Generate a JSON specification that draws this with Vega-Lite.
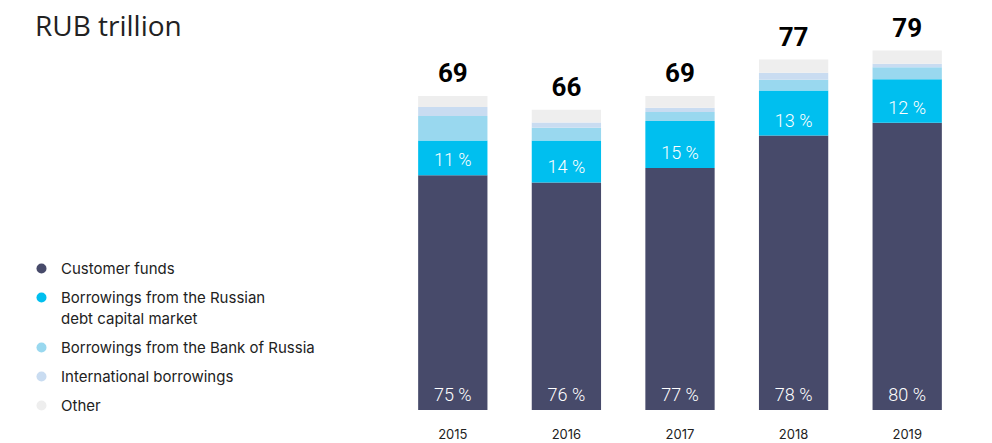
{
  "$schema": "https://vega.github.io/schema/vega-lite/v6.json",
  "width": 568,
  "height": 405,
  "autosize": {"type": "none"},
  "padding": {"left": 396, "top": 5, "right": 28, "bottom": 33},
  "background": "white",
  "title": {
    "text": "RUB trillion",
    "anchor": "start",
    "frame": "group",
    "orient": "top",
    "baseline": "alphabetic",
    "offset": 0,
    "dx": -361,
    "dy": 59,
    "fontSize": 28,
    "font": "Open Sans",
    "fontWeight": "normal",
    "color": "#222222"
  },
  "data": {
    "values": [
      {"year": "2015", "source": "Customer funds", "order": 1, "value": 51.6, "label": "75 %"},
      {"year": "2015", "source": "Borrowings from the Russian debt capital market", "order": 2, "value": 7.6, "label": "11 %"},
      {"year": "2015", "source": "Borrowings from the Bank of Russia", "order": 3, "value": 5.4},
      {"year": "2015", "source": "International borrowings", "order": 4, "value": 2.0},
      {"year": "2015", "source": "Other", "order": 5, "value": 2.4},
      {"year": "2016", "source": "Customer funds", "order": 1, "value": 50.0, "label": "76 %"},
      {"year": "2016", "source": "Borrowings from the Russian debt capital market", "order": 2, "value": 9.2, "label": "14 %"},
      {"year": "2016", "source": "Borrowings from the Bank of Russia", "order": 3, "value": 2.8},
      {"year": "2016", "source": "International borrowings", "order": 4, "value": 1.2},
      {"year": "2016", "source": "Other", "order": 5, "value": 2.8},
      {"year": "2017", "source": "Customer funds", "order": 1, "value": 53.2, "label": "77 %"},
      {"year": "2017", "source": "Borrowings from the Russian debt capital market", "order": 2, "value": 10.3, "label": "15 %"},
      {"year": "2017", "source": "Borrowings from the Bank of Russia", "order": 3, "value": 2.0},
      {"year": "2017", "source": "International borrowings", "order": 4, "value": 0.9},
      {"year": "2017", "source": "Other", "order": 5, "value": 2.6},
      {"year": "2018", "source": "Customer funds", "order": 1, "value": 60.3, "label": "78 %"},
      {"year": "2018", "source": "Borrowings from the Russian debt capital market", "order": 2, "value": 9.9, "label": "13 %"},
      {"year": "2018", "source": "Borrowings from the Bank of Russia", "order": 3, "value": 2.4},
      {"year": "2018", "source": "International borrowings", "order": 4, "value": 1.5},
      {"year": "2018", "source": "Other", "order": 5, "value": 2.9},
      {"year": "2019", "source": "Customer funds", "order": 1, "value": 63.1, "label": "80 %"},
      {"year": "2019", "source": "Borrowings from the Russian debt capital market", "order": 2, "value": 9.6, "label": "12 %"},
      {"year": "2019", "source": "Borrowings from the Bank of Russia", "order": 3, "value": 2.6},
      {"year": "2019", "source": "International borrowings", "order": 4, "value": 0.8},
      {"year": "2019", "source": "Other", "order": 5, "value": 2.9}
    ]
  },
  "transform": [
    {"stack": "value", "groupby": ["year"], "sort": [{"field": "order", "order": "ascending"}], "as": ["v0", "v1"]}
  ],
  "layer": [
    {
      "mark": {"type": "bar"},
      "encoding": {
        "x": {
          "field": "year",
          "type": "ordinal",
          "scale": {"paddingInner": 0.39, "paddingOuter": 0.195},
          "axis": {
            "title": null,
            "labelAngle": 0,
            "domain": false,
            "ticks": false,
            "grid": false,
            "labelFont": "Inter",
            "labelFontSize": 13,
            "labelColor": "#222222",
            "labelPadding": 18
          }
        },
        "y": {"field": "v0", "type": "quantitative", "scale": {"domain": [0, 89], "nice": false}, "axis": null},
        "y2": {"field": "v1"},
        "color": {
          "field": "source",
          "type": "nominal",
          "scale": {
            "domain": [
              "Customer funds",
              "Borrowings from the Russian debt capital market",
              "Borrowings from the Bank of Russia",
              "International borrowings",
              "Other"
            ],
            "range": ["#474a6a", "#00bfef", "#99d8ef", "#c9dcf1", "#eeeeee"]
          },
          "legend": {
            "orient": "none",
            "legendX": -362,
            "legendY": 256,
            "title": null,
            "symbolType": "circle",
            "symbolSize": 100,
            "symbolStrokeWidth": 0,
            "labelFont": "Inter",
            "labelFontSize": 15,
            "labelColor": "#222222",
            "labelOffset": 12,
            "labelBaseline": "alphabetic",
            "labelLimit": 400,
            "rowPadding": 13,
            "padding": 0,
            "labelExpr": "datum.label == 'Borrowings from the Russian debt capital market' ? ['Borrowings from the Russian', 'debt capital market'] : datum.label",
            "encode": {
              "labels": {"update": {"dy": {"value": 5}, "lineHeight": {"value": 21}}}
            }
          }
        }
      }
    },
    {
      "transform": [{"filter": "isValid(datum.label)"}],
      "mark": {"type": "text", "color": "white", "font": "Roboto", "fontWeight": 300, "fontSize": 18, "baseline": "middle", "dy": -14},
      "encoding": {
        "x": {"field": "year", "type": "ordinal"},
        "y": {"field": "v0", "type": "quantitative"},
        "text": {"field": "label"}
      }
    },
    {
      "mark": {"type": "text", "color": "black", "font": "Roboto", "fontWeight": "bold", "fontSize": 26, "baseline": "alphabetic", "dy": -14},
      "encoding": {
        "x": {"field": "year", "type": "ordinal"},
        "y": {"aggregate": "max", "field": "v1", "type": "quantitative"},
        "text": {"aggregate": "max", "field": "v1", "type": "quantitative", "format": ".0f"}
      }
    }
  ],
  "config": {"view": {"stroke": null}}
}
